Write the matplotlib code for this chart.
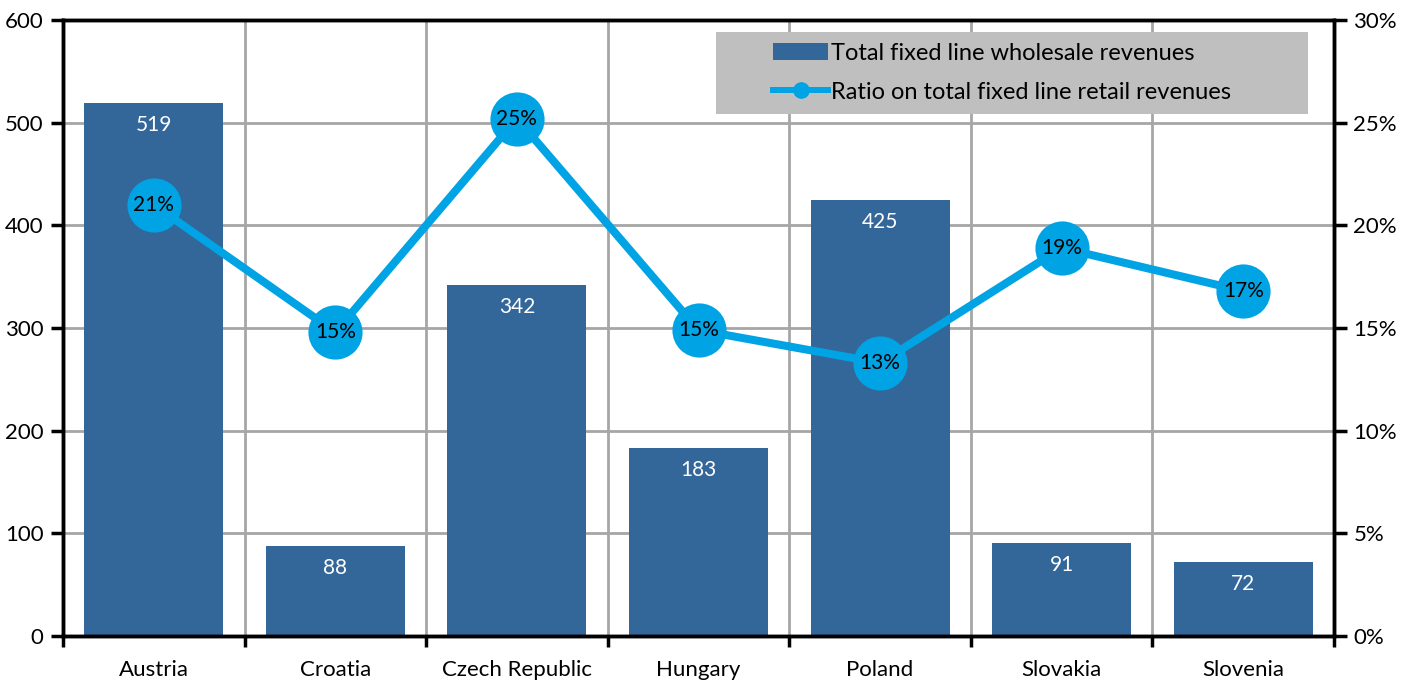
import matplotlib
matplotlib.use("Agg")
import matplotlib.pyplot as plt
from matplotlib.ticker import FuncFormatter, MultipleLocator
from matplotlib.lines import Line2D
from matplotlib.patches import Patch, Rectangle
import numpy as np

countries = ["Austria", "Croatia", "Czech Republic", "Hungary", "Poland", "Slovakia", "Slovenia"]
wholesale = [519, 88, 342, 183, 425, 91, 72]
ratio = [21.0, 14.8, 25.2, 14.9, 13.3, 18.9, 16.8]
ratio_labels = ["21%", "15%", "25%", "15%", "13%", "19%", "17%"]
legend_labels = ["Total fixed line wholesale revenues",
                 "Ratio on total fixed line retail revenues"]

bar_color = "#336699"
line_color = "#00A3E4"
plt.rcParams["font.family"] = ["Lato", "DejaVu Sans"]

W, H = 1410, 682
L, R, T, B = 63, 1334, 20, 636
fig = plt.figure(figsize=(W/100, H/100), dpi=100)
ax = fig.add_axes([L/W, (H-B)/H, (R-L)/W, (B-T)/H])
x = np.arange(len(countries))

def axx(px):
    return (px - L) / (R - L)

def axy(py):
    return (B - py) / (B - T)

ax.bar(x, wholesale, width=0.765, color=bar_color, zorder=2)
ax.set_xlim(-0.5, len(countries) - 0.5)
ax.set_ylim(0, 600)
ax.yaxis.set_major_locator(MultipleLocator(100))
ax.grid(axis="y", color="#A6A6A6", linewidth=2, zorder=0)
for b in np.arange(0.5, len(countries) - 0.5, 1):
    ax.axvline(b, color="#A6A6A6", linewidth=2, zorder=0)
ax.set_xticks(x)
ax.set_xticklabels(countries, fontsize=16)
ax.set_xticks(np.arange(-0.5, len(countries), 1), minor=True)
ax.tick_params(axis="x", which="major", length=0, pad=17)
ax.tick_params(axis="x", which="minor", length=8, width=2.5, direction="out")
ax.tick_params(axis="y", length=9, width=2.5, labelsize=16, pad=5)
for s in ax.spines.values():
    s.set_linewidth(2.5)
    s.set_color("black")

for xi, v in zip(x, wholesale):
    ax.annotate(str(v), (xi, v), xytext=(0, -22), textcoords="offset pixels",
                ha="center", va="center", color="white", fontsize=15, zorder=5)

ax2 = ax.twinx()
ax2.set_ylim(0, 30)
ax2.yaxis.set_major_locator(MultipleLocator(5))
ax2.yaxis.set_major_formatter(FuncFormatter(lambda v, p: f"{v:.0f}%"))
ax2.tick_params(axis="y", length=9, width=2.5, labelsize=16, pad=5)
for s in ax2.spines.values():
    s.set_linewidth(2.5)
ax2.plot(x, ratio, color=line_color, linewidth=5.8, marker="o", markersize=39,
         markeredgewidth=0, zorder=3)
for xi, v, lab in zip(x, ratio, ratio_labels):
    ax2.text(xi, v, lab, ha="center", va="center", fontsize=15, color="black", zorder=6)

# legend background
ax2.add_patch(Rectangle((axx(716), axy(114)), axx(1308) - axx(716), axy(32) - axy(114),
                        transform=ax2.transAxes, facecolor="#BFBFBF", edgecolor="none",
                        zorder=4, clip_on=False))
handles = [Patch(facecolor=bar_color, edgecolor="none"),
           Line2D([0], [0], color=line_color, linewidth=4.3, marker="o", markersize=12,
                  markeredgewidth=0)]
leg = ax2.legend(handles, legend_labels, loc="upper left",
                 bbox_to_anchor=(axx(773), axy(43)), frameon=False, fontsize=17,
                 handlelength=2.35, handletextpad=0.12, borderpad=0, labelspacing=0.75,
                 borderaxespad=0, handleheight=0.7)
leg.set_zorder(5)

fig.savefig("out.png", dpi=100)
